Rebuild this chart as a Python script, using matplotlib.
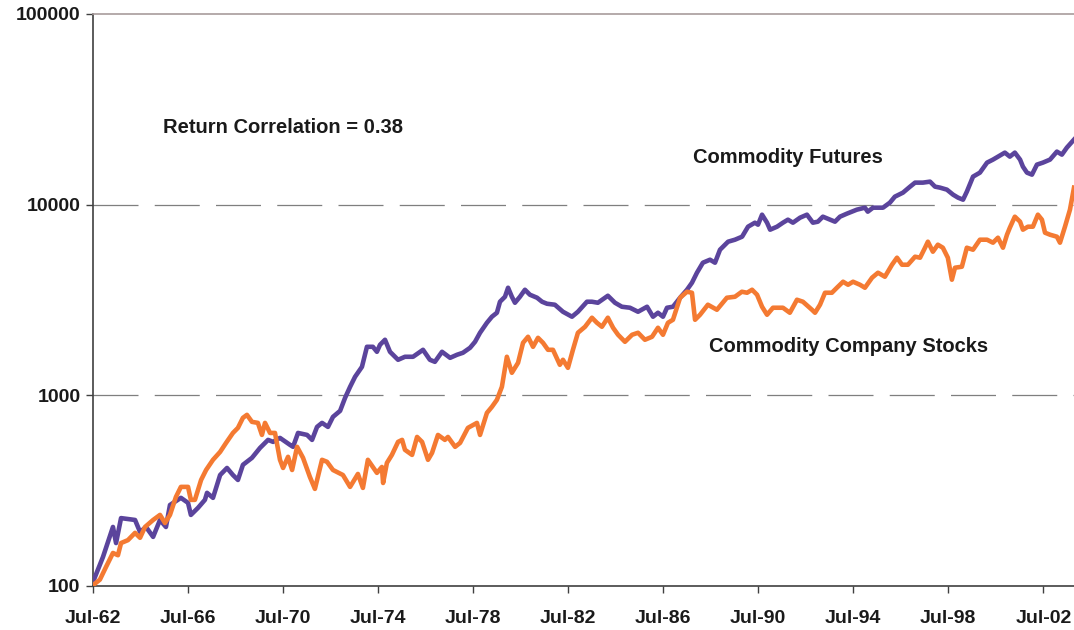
import matplotlib.pyplot as plt
from matplotlib.ticker import FixedLocator, NullLocator

plt.rcParams['font.family'] = ['Liberation Sans', 'DejaVu Sans']

# Commodity Futures (index, log scale) -- decimal years
fut_years = [1962.50, 1962.92, 1963.34, 1963.47, 1963.68, 1964.27, 1964.48, 1964.73, 1965.03, 1965.32,
             1965.57, 1965.74, 1966.20, 1966.50, 1966.62, 1966.92, 1967.21, 1967.30, 1967.55, 1967.85,
             1968.14, 1968.39, 1968.60, 1968.81, 1969.19, 1969.53, 1969.87, 1970.08, 1970.37, 1970.79,
             1970.92, 1971.13, 1971.51, 1971.72, 1971.93, 1972.14, 1972.39, 1972.60, 1972.90, 1973.11,
             1973.32, 1973.53, 1973.82, 1974.03, 1974.28, 1974.45, 1974.58, 1974.79, 1975.00, 1975.21,
             1975.34, 1975.63, 1975.97, 1976.39, 1976.68, 1976.89, 1977.19, 1977.53, 1977.82, 1978.07,
             1978.37, 1978.58, 1978.79, 1979.08, 1979.29, 1979.50, 1979.63, 1979.84, 1979.97, 1980.13,
             1980.26, 1980.47, 1980.68, 1980.89, 1981.19, 1981.40, 1981.61, 1981.94, 1982.28, 1982.66,
             1982.91, 1983.29, 1983.50, 1983.75, 1984.17, 1984.47, 1984.76, 1985.10, 1985.44, 1985.82,
             1986.07, 1986.28, 1986.49, 1986.66, 1986.91, 1987.21, 1987.50, 1987.71, 1987.92, 1988.17,
             1988.47, 1988.68, 1988.89, 1989.23, 1989.52, 1989.82, 1990.07, 1990.36, 1990.49, 1990.66,
             1990.87, 1991.00, 1991.29, 1991.54, 1991.75, 1991.96, 1992.26, 1992.55, 1992.80, 1993.01,
             1993.22, 1993.52, 1993.73, 1993.94, 1994.23, 1994.65, 1994.99, 1995.11, 1995.33, 1995.75,
             1996.04, 1996.25, 1996.59, 1996.89, 1997.10, 1997.43, 1997.73, 1997.94, 1998.15, 1998.44,
             1998.70, 1998.91, 1999.12, 1999.28, 1999.54, 1999.83, 2000.13, 2000.38, 2000.59, 2000.88,
             2001.09, 2001.30, 2001.52, 2001.64, 2001.81, 2002.02, 2002.23, 2002.48, 2002.78, 2003.07,
             2003.28, 2003.49, 2003.79]
fut_values = [105, 142, 204, 168, 227, 222, 192, 204, 181, 222,
              204, 266, 290, 273, 236, 257, 283, 308, 290, 382,
              416, 382, 360, 432, 470, 530, 584, 570, 598, 550,
              537, 635, 620, 584, 683, 717, 683, 771, 829, 970,
              1108, 1251, 1411, 1797, 1797, 1692, 1841, 1956, 1692, 1593,
              1536, 1593, 1593, 1733, 1536, 1499, 1692, 1573, 1632, 1672,
              1776, 1909, 2129, 2402, 2584, 2711, 3097, 3289, 3667, 3289,
              3059, 3289, 3579, 3370, 3250, 3097, 3022, 2987, 2744, 2584,
              2744, 3097, 3097, 3059, 3329, 3059, 2915, 2880, 2744, 2915,
              2584, 2711, 2584, 2880, 2915, 3250, 3579, 3895, 4396, 4961,
              5144, 4961, 5803, 6394, 6550, 6792, 7664, 8044, 7852, 8860,
              8044, 7392, 7664, 8044, 8342, 8044, 8546, 8860, 8044, 8142,
              8650, 8342, 8142, 8650, 8970, 9413, 9643, 9189, 9643, 9643,
              10244, 11015, 11561, 12432, 13049, 13049, 13206, 12432, 12283, 11990,
              11285, 10883, 10622, 11701, 14028, 14723, 16614, 17231, 17864, 18750,
              17864, 18750, 17231, 15830, 14723, 14370, 16218, 16614, 17231, 18975,
              18302, 19920, 21940]

# Commodity Company Stocks
stk_years = [1962.50, 1962.79, 1963.05, 1963.34, 1963.55, 1963.68, 1963.97, 1964.27, 1964.48, 1964.69,
             1965.03, 1965.32, 1965.53, 1965.74, 1965.99, 1966.20, 1966.50, 1966.62, 1966.79, 1967.05,
             1967.26, 1967.55, 1967.85, 1968.10, 1968.39, 1968.60, 1968.81, 1968.98, 1969.19, 1969.44,
             1969.61, 1969.74, 1969.95, 1970.16, 1970.37, 1970.50, 1970.71, 1970.88, 1971.09, 1971.34,
             1971.63, 1971.84, 1972.14, 1972.35, 1972.60, 1973.02, 1973.32, 1973.65, 1973.86, 1974.07,
             1974.45, 1974.66, 1974.71, 1974.87, 1975.08, 1975.34, 1975.51, 1975.63, 1975.93, 1976.14,
             1976.35, 1976.60, 1976.77, 1977.02, 1977.31, 1977.44, 1977.74, 1977.95, 1978.28, 1978.66,
             1978.79, 1979.08, 1979.29, 1979.50, 1979.71, 1979.92, 1980.13, 1980.39, 1980.60, 1980.81,
             1981.02, 1981.23, 1981.44, 1981.65, 1981.86, 1982.15, 1982.28, 1982.49, 1982.70, 1982.91,
             1983.21, 1983.50, 1983.71, 1983.92, 1984.17, 1984.39, 1984.60, 1984.89, 1985.19, 1985.44,
             1985.73, 1986.03, 1986.28, 1986.49, 1986.70, 1986.91, 1987.21, 1987.50, 1987.71, 1987.84,
             1988.05, 1988.38, 1988.76, 1989.18, 1989.52, 1989.81, 1990.03, 1990.24, 1990.45, 1990.66,
             1990.87, 1991.12, 1991.54, 1991.83, 1992.13, 1992.38, 1992.76, 1992.89, 1993.10, 1993.31,
             1993.60, 1993.81, 1994.07, 1994.28, 1994.49, 1994.78, 1994.99, 1995.29, 1995.54, 1995.83,
             1996.13, 1996.34, 1996.55, 1996.80, 1997.10, 1997.31, 1997.52, 1997.64, 1997.85, 1998.06,
             1998.27, 1998.48, 1998.65, 1998.78, 1999.07, 1999.28, 1999.54, 1999.83, 2000.13, 2000.38,
             2000.59, 2000.80, 2000.97, 2001.09, 2001.30, 2001.52, 2001.64, 2001.85, 2002.06, 2002.27,
             2002.44, 2002.57, 2002.78, 2003.07, 2003.20, 2003.41, 2003.62, 2003.79]
stk_values = [101, 108, 126, 149, 145, 168, 174, 190, 179, 204,
              222, 236, 214, 236, 293, 331, 331, 283, 283, 360,
              406, 459, 505, 563, 635, 675, 762, 790, 726, 717,
              620, 717, 635, 635, 459, 416, 476, 406, 537, 470,
              373, 323, 459, 448, 406, 382, 331, 387, 327, 459,
              392, 421, 347, 442, 487, 570, 584, 518, 487, 605,
              570, 459, 499, 620, 584, 605, 537, 563, 675, 717,
              620, 809, 870, 947, 1108, 1593, 1313, 1481, 1886, 2028,
              1797, 2003, 1886, 1733, 1733, 1446, 1536, 1394, 1733, 2129,
              2289, 2553, 2402, 2289, 2553, 2261, 2078, 1909, 2078, 2129,
              1956, 2028, 2261, 2078, 2402, 2491, 3250, 3494, 3452, 2491,
              2646, 2987, 2811, 3250, 3289, 3494, 3452, 3579, 3370, 2915,
              2646, 2880, 2880, 2711, 3172, 3097, 2811, 2711, 2987, 3452,
              3452, 3667, 3943, 3802, 3943, 3802, 3667, 4140, 4396, 4188,
              4842, 5271, 4842, 4842, 5334, 5271, 5946, 6394, 5667, 6166,
              5946, 5271, 4041, 4670, 4726, 5946, 5803, 6550, 6550, 6317,
              6711, 5946, 6958, 7574, 8650, 8142, 7392, 7664, 7664, 8860,
              8342, 7129, 6958, 6792, 6317, 7664, 9413, 12283]

tick_years = [1962.5 + 4 * k for k in range(11)]
tick_labels = ['Jul-62', 'Jul-66', 'Jul-70', 'Jul-74', 'Jul-78', 'Jul-82',
               'Jul-86', 'Jul-90', 'Jul-94', 'Jul-98', 'Jul-02']
y_ticks = [100, 1000, 10000, 100000]

fig = plt.figure(figsize=(10.74, 6.30), dpi=100)
ax = fig.add_axes([93 / 1074, 44 / 630, 981 / 1074, 572 / 630])

ax.set_yscale('log')
ax.set_ylim(100, 100000)
ax.set_xlim(1962.5, 2003.79)

# dashed gridlines at 1000 and 10000
for g in [1000, 10000]:
    ax.axhline(g, color='#7f7f7f', lw=0.9, dashes=(36, 13), zorder=1)

ax.plot(fut_years, fut_values, color='#5b449c', lw=3.3, solid_joinstyle='round', zorder=3)
ax.plot(stk_years, stk_values, color='#f47a32', lw=3.3, solid_joinstyle='round', zorder=3)

ax.yaxis.set_major_locator(FixedLocator(y_ticks))
ax.yaxis.set_minor_locator(NullLocator())
ax.set_yticklabels([str(v) for v in y_ticks])
ax.set_xticks(tick_years)
ax.set_xticklabels(tick_labels)
ax.tick_params(axis='both', direction='out', length=5, width=1, color='#404040',
               labelsize=14, labelcolor='#1a1a1a')
ax.tick_params(axis='x', pad=12)
ax.tick_params(axis='y', pad=4)
for lab in ax.get_xticklabels() + ax.get_yticklabels():
    lab.set_fontweight('bold')

for s in ['left', 'bottom']:
    ax.spines[s].set_color('#404040')
    ax.spines[s].set_linewidth(1.2)
ax.spines['right'].set_visible(False)
ax.spines['top'].set_color('#a89c9c')
ax.spines['top'].set_linewidth(1.2)

ax.text(1965.45, 25350, 'Return Correlation = 0.38', fontsize=14.5, fontweight='bold',
        color='#1a1a1a', va='center')
ax.text(1987.75, 17660, 'Commodity Futures', fontsize=14.5, fontweight='bold',
        color='#1a1a1a', va='center')
ax.text(1988.43, 1797, 'Commodity Company Stocks', fontsize=14.5, fontweight='bold',
        color='#1a1a1a', va='center')

fig.savefig('out.png', dpi=100)
